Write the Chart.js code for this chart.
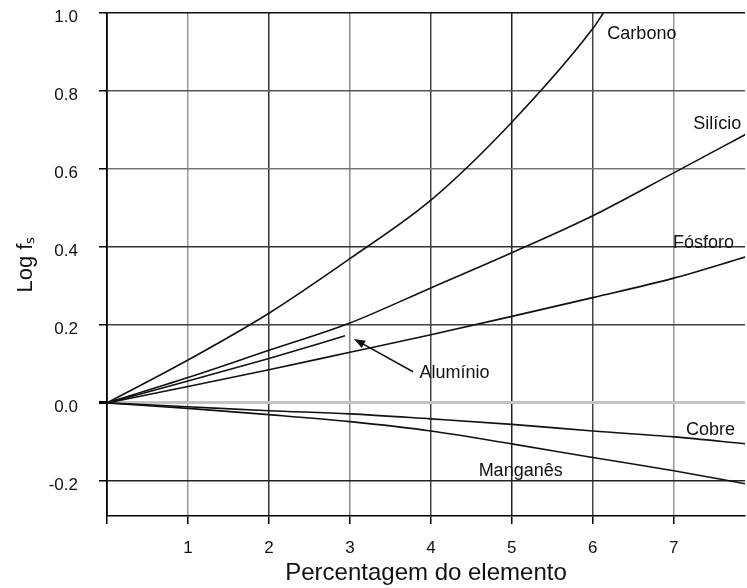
<!DOCTYPE html>
<html>
<head>
<meta charset="utf-8">
<script src="https://cdn.jsdelivr.net/npm/chart.js@4"></script>
<style>
  html, body { margin: 0; padding: 0; background: #fff; }
  #wrap { width: 747px; height: 588px; }
</style>
</head>
<body>
<div id="wrap"><canvas id="fsChart"></canvas></div>
<script>
// Data
//==============================

var xPct = [0, 1, 2, 3, 4, 5, 6, 7, 7.9];
var carbonoX = [0, 1, 2, 3, 4, 5, 6, 6.13];
var aluminioX = [0, 1, 2, 2.94];

var carbono = [0, 0.11, 0.23, 0.37, 0.52, 0.72, 0.96, 1.0];
var silicio = [0, 0.065, 0.135, 0.205, 0.295, 0.385, 0.48, 0.59, 0.69];
var fosforo = [0, 0.042, 0.085, 0.13, 0.175, 0.222, 0.27, 0.32, 0.375];
var aluminio = [0, 0.056, 0.114, 0.172];
var cobre = [0, -0.01, -0.02, -0.028, -0.041, -0.055, -0.072, -0.087, -0.105];
var manganes = [0, -0.014, -0.03, -0.048, -0.072, -0.105, -0.14, -0.174, -0.208];

var xTicks = [0, 1, 2, 3, 4, 5, 6, 7];
var yTicks = [-0.2, 0.0, 0.2, 0.4, 0.6, 0.8, 1.0];

// grid lines in the scan are not all the same darkness
var xGridColors = { 1: "#999", 2: "#333", 3: "#888", 4: "#444", 5: "#222", 6: "#444", 7: "#999" };
var yGridColors = { "-0.2": "#222", "0.0": "#c4c4c4", "0.2": "#444", "0.4": "#333", "0.6": "#777", "0.8": "#555", "1.0": "#111" };

function pts(xs, ys) {
  var out = [];
  for (var i = 0; i < ys.length; i++) {
    out.push({ x: xs[i], y: ys[i] });
  }
  return out;
}

function line(label, data) {
  return {
    label: label,
    data: data,
    borderColor: "#111",
    borderWidth: 1.6,
    pointRadius: 0,
    fill: false,
    cubicInterpolationMode: "monotone"
  };
}

// Curve labels and the arrow for Aluminio
//==============================
var FONT = "'Liberation Sans', Arial, sans-serif";

var curveLabels = [
  { text: "Carbono", x: 6.18, y: 0.946 },
  { text: "Silício", x: 7.24, y: 0.715 },
  { text: "Fósforo", x: 6.99, y: 0.41 },
  { text: "Alumínio", x: 3.86, y: 0.077 },
  { text: "Cobre", x: 7.15, y: -0.069 },
  { text: "Manganês", x: 4.59, y: -0.174 }
];

var labelPlugin = {
  id: "curveLabels",
  afterDatasetsDraw: function (chart) {
    var ctx = chart.ctx;
    var xs = chart.scales.x;
    var ys = chart.scales.y;
    ctx.save();
    ctx.font = "18px " + FONT;
    ctx.fillStyle = "#111";
    ctx.textAlign = "left";
    ctx.textBaseline = "middle";
    curveLabels.forEach(function (l) {
      ctx.fillText(l.text, xs.getPixelForValue(l.x), ys.getPixelForValue(l.y));
    });

    // arrow from the label to the Aluminio curve
    var x0 = xs.getPixelForValue(3.78), y0 = ys.getPixelForValue(0.08);
    var x1 = xs.getPixelForValue(3.05), y1 = ys.getPixelForValue(0.164);
    var ang = Math.atan2(y1 - y0, x1 - x0);
    ctx.strokeStyle = "#111";
    ctx.lineWidth = 1.6;
    ctx.beginPath();
    ctx.moveTo(x0, y0);
    ctx.lineTo(x1 - 8 * Math.cos(ang), y1 - 8 * Math.sin(ang));
    ctx.stroke();
    ctx.beginPath();
    ctx.moveTo(x1, y1);
    ctx.lineTo(x1 - 12 * Math.cos(ang - 0.35), y1 - 12 * Math.sin(ang - 0.35));
    ctx.lineTo(x1 - 12 * Math.cos(ang + 0.35), y1 - 12 * Math.sin(ang + 0.35));
    ctx.closePath();
    ctx.fill();
    ctx.restore();
  }
};

// Chart
//==============================
var ctx = document.getElementById("fsChart");
var fsChart = new Chart(ctx, {
  type: "line",
  data: {
    datasets: [
      line("Carbono", pts(carbonoX, carbono)),
      line("Silício", pts(xPct, silicio)),
      line("Fósforo", pts(xPct, fosforo)),
      line("Alumínio", pts(aluminioX, aluminio)),
      line("Cobre", pts(xPct, cobre)),
      line("Manganês", pts(xPct, manganes))
    ]
  },
  options: {
    responsive: true,
    maintainAspectRatio: false,
    animation: false,
    layout: { padding: { left: 9, right: 2, top: 13, bottom: 0 } },
    plugins: {
      legend: { display: false },
      tooltip: { enabled: false }
    },
    scales: {
      x: {
        type: "linear",
        min: 0,
        max: 7.88,
        afterBuildTicks: function (scale) {
          scale.ticks = xTicks.map(function (v) { return { value: v }; });
        },
        afterFit: function (scale) {
          scale.height = 72;
          scale.paddingLeft = 0;
          scale.paddingRight = 0;
        },
        ticks: {
          color: "#111",
          font: { family: FONT, size: 17 },
          padding: 14,
          maxRotation: 0,
          callback: function (v) { return v === 0 ? "" : v; }
        },
        grid: {
          color: function (c) { return xGridColors[c.tick.value] || "#000"; },
          lineWidth: 1.5,
          tickLength: 8,
          tickColor: "#000"
        },
        border: { color: "#000", width: 1.6 },
        title: {
          display: true,
          text: "Percentagem do elemento",
          color: "#111",
          font: { family: FONT, size: 24 },
          padding: { top: 0, bottom: 0 }
        }
      },
      y: {
        type: "linear",
        min: -0.29,
        max: 1.0,
        afterBuildTicks: function (scale) {
          scale.ticks = yTicks.map(function (v) { return { value: v }; });
        },
        afterFit: function (scale) {
          scale.width = 98;
          scale.paddingTop = 0;
          scale.paddingBottom = 0;
        },
        ticks: {
          color: "#111",
          font: { family: FONT, size: 17 },
          padding: 21,
          labelOffset: 4,
          callback: function (v) { return v.toFixed(1); }
        },
        grid: {
          color: function (c) { return yGridColors[c.tick.value.toFixed(1)] || "#000"; },
          lineWidth: function (c) { return c.tick.value === 0 ? 3 : 1.5; },
          tickLength: 8,
          tickColor: "#000"
        },
        border: { color: "#000", width: 1.6 },
        title: {
          display: true,
          text: "Log fₛ",
          color: "#111",
          font: { family: FONT, size: 22 },
          padding: { top: 4, bottom: 10 }
        }
      }
    }
  },
  plugins: [labelPlugin]
});
</script>
</body>
</html>
